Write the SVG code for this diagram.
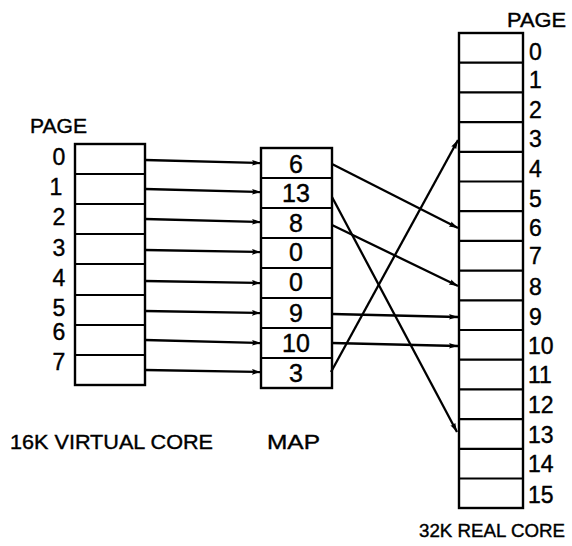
<svg xmlns="http://www.w3.org/2000/svg" width="572" height="546" viewBox="0 0 572 546">
<style>
.box{fill:#fff;stroke:#000;stroke-width:2.4}
.div{stroke:#000;stroke-width:2.2}
.t{font-family:"Liberation Sans",Arial,sans-serif;fill:#000;stroke:#000;stroke-width:0.4}
.num{font-size:23px}
.mapnum{font-size:25px;text-anchor:middle}
.lbl{font-size:21px}
.con{stroke:#000;stroke-width:2.3;fill:none;marker-end:url(#ah)}
</style>
<defs>
<marker id="ah" markerUnits="userSpaceOnUse" markerWidth="10" markerHeight="8" refX="9" refY="4" orient="auto">
<path d="M0,1.2 L9,4 L0,6.8 Q2,4 0,1.2 z" fill="#000"/>
</marker>
</defs>
<rect width="572" height="546" fill="#fff"/>

<g id="virtual-core">
<rect class="box" x="75" y="144" width="70" height="241"/>
<path class="div" d="M75,174H145M75,204H145M75,234H145M75,264H145M75,295H145M75,325H145M75,355H145"/>
<text class="t lbl" x="30" y="133" textLength="57" lengthAdjust="spacingAndGlyphs">PAGE</text>
<g class="t num" text-anchor="middle">
<text x="59" y="165">0</text>
<text x="56" y="195">1</text>
<text x="59" y="225">2</text>
<text x="59" y="256">3</text>
<text x="59" y="286">4</text>
<text x="59" y="316">5</text>
<text x="59" y="340">6</text>
<text x="59" y="370">7</text>
</g>
<text class="t lbl" x="10" y="449" textLength="203" lengthAdjust="spacingAndGlyphs">16K VIRTUAL CORE</text>
</g>

<g id="map">
<rect class="box" x="261" y="148" width="71" height="240"/>
<path class="div" d="M261,178H332M261,208H332M261,238H332M261,268H332M261,298H332M261,328H332M261,358H332"/>
<g class="t mapnum">
<text x="296" y="173">6</text>
<text x="296" y="202">13</text>
<text x="296" y="232">8</text>
<text x="296" y="261">0</text>
<text x="296" y="291">0</text>
<text x="296" y="322">9</text>
<text x="296" y="352">10</text>
<text x="296" y="382">3</text>
</g>
<text class="t lbl" x="267" y="449" textLength="53" lengthAdjust="spacingAndGlyphs">MAP</text>
</g>

<g id="real-core">
<rect class="box" x="459" y="33" width="64" height="475"/>
<path class="div" d="M459,62.7H523M459,92.4H523M459,122.1H523M459,151.8H523M459,181.5H523M459,211.2H523M459,240.9H523M459,270.6H523M459,300.3H523M459,330H523M459,359.7H523M459,389.4H523M459,419.1H523M459,448.8H523M459,478.5H523"/>
<text class="t lbl" x="507" y="27" textLength="59" lengthAdjust="spacingAndGlyphs">PAGE</text>
<g class="t num">
<text x="529" y="60">0</text>
<text x="529" y="88">1</text>
<text x="529" y="118">2</text>
<text x="529" y="147">3</text>
<text x="529" y="177">4</text>
<text x="529" y="207">5</text>
<text x="529" y="236">6</text>
<text x="529" y="264">7</text>
<text x="529" y="295">8</text>
<text x="529" y="325">9</text>
<text x="528" y="354">10</text>
<text x="528" y="383">11</text>
<text x="528" y="413">12</text>
<text x="528" y="443">13</text>
<text x="528" y="472">14</text>
<text x="528" y="503">15</text>
</g>
<text class="t" x="419" y="537" font-size="18.5" textLength="146" lengthAdjust="spacingAndGlyphs">32K REAL CORE</text>
</g>

<g id="connectors">
<line class="con" x1="145" y1="160" x2="261" y2="163"/>
<line class="con" x1="145" y1="189" x2="261" y2="192"/>
<line class="con" x1="145" y1="219" x2="261" y2="222"/>
<line class="con" x1="145" y1="250" x2="261" y2="252"/>
<line class="con" x1="145" y1="281" x2="261" y2="283"/>
<line class="con" x1="145" y1="311" x2="261" y2="313"/>
<line class="con" x1="145" y1="340" x2="261" y2="343"/>
<line class="con" x1="145" y1="370" x2="261" y2="372"/>
<line class="con" x1="332" y1="164" x2="458" y2="228"/>
<line class="con" x1="332" y1="197" x2="457" y2="432"/>
<line class="con" x1="332" y1="225" x2="458" y2="286"/>
<line class="con" x1="332" y1="314" x2="458" y2="317"/>
<line class="con" x1="332" y1="343" x2="458" y2="346"/>
<line class="con" x1="331" y1="372" x2="458" y2="140"/>
</g>
</svg>
